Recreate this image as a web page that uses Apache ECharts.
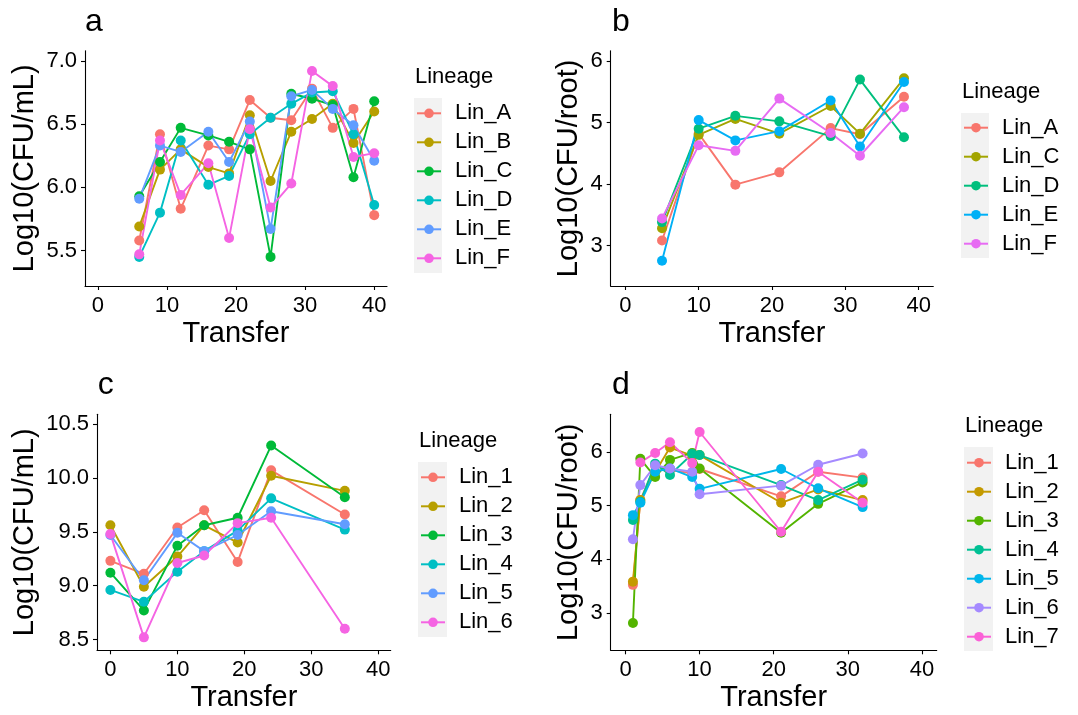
<!DOCTYPE html>
<html>
<head>
<meta charset="utf-8">
<script src="https://cdn.jsdelivr.net/npm/echarts@6/dist/echarts.min.js"></script>
<style>
  html, body { margin: 0; padding: 0; background: #fff; }
  #chart { width: 1078px; height: 715px; }
</style>
</head>
<body>
<div id="chart"></div>
<script>
// ---------- Panel a: Log10(CFU/mL) over transfers ----------
const transferA = [6, 9, 12, 16, 19, 22, 25, 28, 31, 34, 37, 40];
const lineagesA = ['Lin_A', 'Lin_B', 'Lin_C', 'Lin_D', 'Lin_E', 'Lin_F'];
const a_Lin_A = [5.58, 6.42, 5.83, 6.33, 6.30, 6.69, 6.55, 6.53, 6.78, 6.47, 6.62, 5.78];
const a_Lin_B = [5.69, 6.14, 6.30, 6.16, 6.11, 6.57, 6.05, 6.44, 6.54, 6.66, 6.35, 6.60];
const a_Lin_C = [5.93, 6.20, 6.47, 6.41, 6.36, 6.30, 5.45, 6.74, 6.70, 6.65, 6.08, 6.68];
const a_Lin_D = [5.45, 5.80, 6.37, 6.02, 6.09, 6.42, 6.55, 6.66, 6.75, 6.76, 6.42, 5.86];
const a_Lin_E = [5.91, 6.33, 6.28, 6.44, 6.20, 6.52, 5.67, 6.72, 6.77, 6.62, 6.49, 6.21];
const a_Lin_F = [5.47, 6.37, 5.94, 6.19, 5.60, 6.46, 5.84, 6.03, 6.92, 6.80, 6.24, 6.27];

// ---------- Panel b: Log10(CFU/root) over transfers ----------
const transferB = [5, 10, 15, 21, 28, 32, 38];
const lineagesB = ['Lin_A', 'Lin_C', 'Lin_D', 'Lin_E', 'Lin_F'];
const b_Lin_A = [3.08, 4.82, 3.99, 4.19, 4.91, 4.81, 5.42];
const b_Lin_C = [3.28, 4.80, 5.06, 4.82, 5.27, 4.82, 5.72];
const b_Lin_D = [3.38, 4.90, 5.11, 5.02, 4.78, 5.70, 4.76];
const b_Lin_E = [2.75, 5.04, 4.71, 4.86, 5.36, 4.61, 5.66];
const b_Lin_F = [3.44, 4.63, 4.54, 5.39, 4.83, 4.46, 5.25];

// ---------- Panel c: Log10(CFU/mL) over transfers ----------
const transferC = [0, 5, 10, 14, 19, 24, 35];
const lineagesC = ['Lin_1', 'Lin_2', 'Lin_3', 'Lin_4', 'Lin_5', 'Lin_6'];
const c_Lin_1 = [9.23, 9.11, 9.54, 9.70, 9.22, 10.07, 9.66];
const c_Lin_2 = [9.56, 8.99, 9.27, 9.56, 9.40, 10.02, 9.88];
const c_Lin_3 = [9.12, 8.77, 9.37, 9.56, 9.63, 10.30, 9.82];
const c_Lin_4 = [8.96, 8.85, 9.13, 9.32, 9.51, 9.81, 9.52];
const c_Lin_5 = [9.47, 9.05, 9.49, 9.32, 9.47, 9.69, 9.57];
const c_Lin_6 = [9.48, 8.52, 9.21, 9.28, 9.58, 9.63, 8.60];

// ---------- Panel d: Log10(CFU/root) over transfers ----------
const transferD = [1, 2, 4, 6, 9, 10, 21, 26, 32];
const lineagesD = ['Lin_1', 'Lin_2', 'Lin_3', 'Lin_4', 'Lin_5', 'Lin_6', 'Lin_7'];
const d_Lin_1 = [3.52, 5.10, 5.74, 5.66, 5.60, 5.68, 5.17, 5.63, 5.52];
const d_Lin_2 = [3.58, 5.10, 5.62, 6.08, 5.93, 5.94, 5.05, 5.30, 5.10];
const d_Lin_3 = [2.81, 5.87, 5.53, 5.85, 5.98, 5.69, 4.49, 5.03, 5.43];
const d_Lin_4 = [4.73, 5.07, 5.78, 5.57, 5.96, 5.94, 5.38, 5.10, 5.48];
const d_Lin_5 = [4.82, 5.05, 5.63, 5.69, 5.53, 5.31, 5.68, 5.32, 4.97];
const d_Lin_6 = [4.37, 5.38, 5.75, 5.69, 5.63, 5.21, 5.37, 5.76, 5.97];
const d_Lin_7 = [null, 5.80, 5.98, 6.18, 5.79, 6.37, 4.51, 5.63, 5.05];

// Axis tick labels
const xTicks = [0, 10, 20, 30, 40];
const yTicksA = [5.5, 6.0, 6.5, 7.0];
const yTicksB = [3, 4, 5, 6];
const yTicksC = [8.5, 9.0, 9.5, 10.0, 10.5];
const yTicksD = [3, 4, 5, 6];

// ggplot2 default hue palettes
const hue5 = ['#F8766D', '#A3A500', '#00BF7D', '#00B0F6', '#E76BF3'];
const hue6 = ['#F8766D', '#B79F00', '#00BA38', '#00BFC4', '#619CFF', '#F564E3'];
const hue7 = ['#F8766D', '#C49A00', '#53B400', '#00C094', '#00B6EB', '#A58AFF', '#FB61D7'];

const FONT = "'Liberation Sans', Arial, sans-serif";

const panels = [
  {
    letter: 'a', xs: transferA, names: lineagesA, colors: hue6,
    values: [a_Lin_A, a_Lin_B, a_Lin_C, a_Lin_D, a_Lin_E, a_Lin_F],
    grid: { left: 85, top: 50.7, width: 302, height: 235.3 },
    xRange: [-1.85, 41.85], yRange: [5.22, 7.08], yTicks: yTicksA, yDec: 1,
    yName: 'Log10(CFU/mL)', yNameGap: 46,
    letterPos: [85, 5.8],
    legend: { left: 416, top: 98.8 }, keyBox: [414, 98, 28, 175], titlePos: [415, 66.4]
  },
  {
    letter: 'b', xs: transferB, names: lineagesB, colors: hue5,
    values: [b_Lin_A, b_Lin_C, b_Lin_D, b_Lin_E, b_Lin_F],
    grid: { left: 610.7, top: 50.7, width: 322.6, height: 235.3 },
    xRange: [-2, 42], yRange: [2.34, 6.17], yTicks: yTicksB, yDec: 0,
    yName: 'Log10(CFU/root)', yNameGap: 27,
    letterPos: [612, 5.8],
    legend: { left: 963, top: 113.2 }, keyBox: [961, 113, 28, 145], titlePos: [962, 80.7]
  },
  {
    letter: 'c', xs: transferC, names: lineagesC, colors: hue6,
    values: [c_Lin_1, c_Lin_2, c_Lin_3, c_Lin_4, c_Lin_5, c_Lin_6],
    grid: { left: 97, top: 414.3, width: 293.7, height: 236 },
    xRange: [-2, 41.85], yRange: [8.40, 10.59], yTicks: yTicksC, yDec: 1,
    yName: 'Log10(CFU/mL)', yNameGap: 58,
    letterPos: [97.7, 368.8],
    legend: { left: 420, top: 462.8 }, keyBox: [418, 462, 29, 175], titlePos: [419, 429.7]
  },
  {
    letter: 'd', xs: transferD, names: lineagesD, colors: hue7,
    values: [d_Lin_1, d_Lin_2, d_Lin_3, d_Lin_4, d_Lin_5, d_Lin_6, d_Lin_7],
    grid: { left: 610.7, top: 414.3, width: 326, height: 236 },
    xRange: [-2, 42], yRange: [2.30, 6.70], yTicks: yTicksD, yDec: 0,
    yName: 'Log10(CFU/root)', yNameGap: 27,
    letterPos: [612, 369.5],
    legend: { left: 966, top: 448.2 }, keyBox: [964, 447, 29, 204], titlePos: [965, 415.4]
  }
];

const option = {
  animation: false,
  backgroundColor: '#fff',
  grid: [], xAxis: [], yAxis: [], series: [], legend: [], graphic: []
};

const axisCommon = {
  axisLine: { show: true, onZero: false, lineStyle: { color: '#000', width: 1.1 } },
  axisTick: { show: true, length: 4, lineStyle: { color: '#000', width: 1.1 } },
  splitLine: { show: false }
};

// series names carry a panel prefix so each legend finds its own series;
// the legend shows only the lineage part
const seriesKey = (letter, name) => letter + ':' + name;

panels.forEach((p, i) => {
  option.grid.push(Object.assign({ containLabel: false }, p.grid));
  option.xAxis.push(Object.assign({}, axisCommon, {
    type: 'value', gridIndex: i, min: p.xRange[0], max: p.xRange[1],
    name: 'Transfer', nameLocation: 'middle', nameGap: 33,
    nameTextStyle: { fontSize: 29, color: '#000', fontFamily: FONT },
    axisTick: Object.assign({}, axisCommon.axisTick, { customValues: xTicks }),
    axisLabel: { customValues: xTicks, fontSize: 22, color: '#000', fontFamily: FONT, margin: 8.5 }
  }));
  option.yAxis.push(Object.assign({}, axisCommon, {
    type: 'value', gridIndex: i, min: p.yRange[0], max: p.yRange[1],
    name: p.yName, nameLocation: 'middle', nameGap: p.yNameGap, nameRotate: 90,
    nameTextStyle: { fontSize: 29, color: '#000', fontFamily: FONT },
    axisTick: Object.assign({}, axisCommon.axisTick, { customValues: p.yTicks }),
    axisLabel: {
      customValues: p.yTicks, fontSize: 22, color: '#000', fontFamily: FONT, margin: 8,
      formatter: v => Number(v).toFixed(p.yDec)
    }
  }));

  // lines underneath, points on top
  p.names.forEach((name, k) => {
    const pts = p.xs.map((x, j) => [x, p.values[k][j]]).filter(d => d[1] !== null);
    option.series.push({
      type: 'line', name: seriesKey(p.letter, name), xAxisIndex: i, yAxisIndex: i,
      data: pts, symbol: 'circle', symbolSize: 10, showSymbol: false,
      z: 2, silent: true,
      lineStyle: { color: p.colors[k], width: 1.9 },
      itemStyle: { color: p.colors[k] }
    });
  });
  p.names.forEach((name, k) => {
    const pts = p.xs.map((x, j) => [x, p.values[k][j]]).filter(d => d[1] !== null);
    option.series.push({
      type: 'scatter', name: seriesKey(p.letter, name), xAxisIndex: i, yAxisIndex: i,
      data: pts, symbol: 'circle', symbolSize: 10, z: 3,
      itemStyle: { color: p.colors[k], opacity: 1 }
    });
  });

  option.legend.push({
    orient: 'vertical', left: p.legend.left, top: p.legend.top, padding: 0,
    itemWidth: 24, itemHeight: 12, itemGap: 0,
    data: p.names.map(n => seriesKey(p.letter, n)),
    formatter: n => n.split(':')[1],
    textStyle: { fontSize: 22, color: '#000', fontFamily: FONT, lineHeight: 29, padding: [0, 0, 0, 9] }
  });

  option.graphic.push(
    { type: 'rect', left: p.keyBox[0], top: p.keyBox[1], z: -1,
      shape: { width: p.keyBox[2], height: p.keyBox[3] }, style: { fill: '#F2F2F2' } },
    { type: 'text', left: p.titlePos[0], top: p.titlePos[1],
      style: { text: 'Lineage', font: '22px ' + FONT, fill: '#000' } },
    { type: 'text', left: p.letterPos[0], top: p.letterPos[1],
      style: { text: p.letter, font: '32px ' + FONT, fill: '#000' } }
  );
});

const chart = echarts.init(document.getElementById('chart'), null, { renderer: 'canvas' });
chart.setOption(option);
</script>
</body>
</html>
